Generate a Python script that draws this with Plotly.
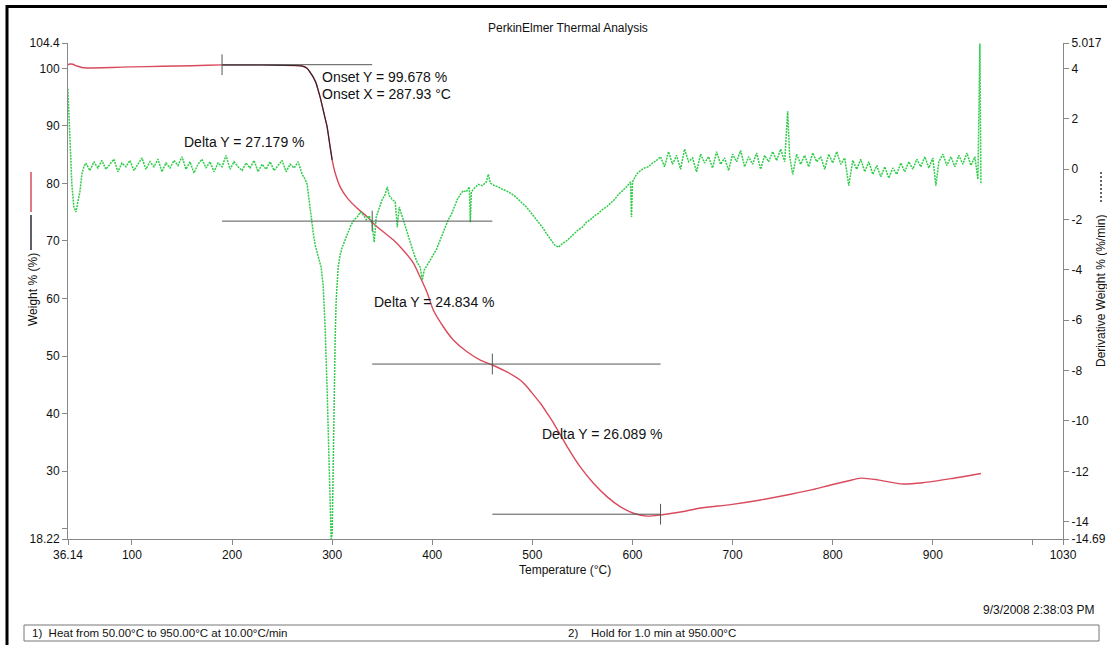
import plotly.graph_objects as go

# ---------------- data ----------------
weight_temp = [36, 38, 41, 45, 50, 55, 60, 80, 100, 130, 160, 190, 230, 260, 270, 275, 278,
               281, 284, 286, 288, 291, 293, 295, 298, 300, 303, 308, 315, 325, 335, 341,
               351, 361, 371, 381, 388, 395, 401, 411, 421, 435, 448, 460, 475, 488, 495,
               501, 508, 515, 521, 528, 535, 548, 561, 575, 588, 601, 615, 628, 648, 668,
               698, 728, 758, 780, 798, 815, 828, 845, 868, 890, 918, 948]
weight_pct = [100.6, 100.75, 100.7, 100.4, 100.15, 100.05, 100.05, 100.15, 100.25, 100.35,
              100.45, 100.6, 100.6, 100.5, 100.4, 100.0, 99.3, 98.5, 97.4, 96.2, 95.0, 92.8,
              91.3, 89.8, 86.3, 84.1, 81.8, 79.4, 77.5, 75.7, 74.2, 73.1, 71.6, 70.2, 68.4,
              66.2, 63.7, 60.96, 58.0, 55.1, 52.8, 50.7, 49.3, 48.45, 47.2, 45.8, 44.6, 43.3,
              41.8, 40.0, 38.4, 36.3, 34.2, 30.7, 27.9, 25.5, 23.8, 22.7, 22.2, 22.4, 22.9,
              23.6, 24.2, 25.0, 26.0, 26.8, 27.6, 28.3, 28.8, 28.5, 27.8, 28.0, 28.7, 29.6]

deriv_temp = [36, 38, 40, 42, 44, 46, 48, 50, 52,
              54, 58, 62, 66, 70, 74, 78, 82, 86, 90, 94, 98, 102, 106, 110, 114, 118, 122,
              126, 130, 134, 138, 142, 146, 150, 154, 158, 162, 166, 170, 174, 178, 182, 186,
              190, 194, 198, 202, 206, 210, 214, 218, 222, 226, 230, 234, 238, 242, 246, 250,
              254, 258, 262, 266, 270,
              273, 275, 277, 279, 281, 283, 285, 287, 289, 291, 293, 295, 297, 299, 300, 301,
              302, 303, 304, 306, 308, 310, 313, 316, 319, 322, 325, 328, 331, 334, 337, 340,
              342, 344, 347, 350, 353, 355, 357, 360, 363, 365, 367, 370, 373, 376, 379, 382,
              385, 388, 390, 392, 395, 398, 401, 404, 407, 410, 413, 416, 419, 422, 425, 428,
              431, 434, 437, 438, 439, 442, 446, 450, 454, 456, 458, 462, 466, 470, 474, 478,
              482, 486, 490, 494, 498, 502, 506, 510, 514, 518, 522, 526, 530, 534, 538, 542,
              546, 550, 554, 558, 562, 566, 570, 574, 578, 582, 586, 590, 594, 598, 599, 600,
              604, 608, 612, 616, 620, 624,
              628, 632, 636, 640, 644, 648, 652, 656, 660, 664, 668, 672, 676, 680, 684, 688,
              692, 696, 700, 704, 708, 712, 716, 720, 724, 728, 732, 736, 740, 744, 748, 752,
              755, 757, 760, 764, 768, 772, 776, 780, 784, 788, 792, 796, 800, 804, 808, 812,
              816, 820, 824, 828, 832, 836, 840, 844, 848, 852, 856, 860, 864, 868, 872, 876,
              880, 884, 888, 892, 896, 900, 903, 906, 910, 914, 918, 922, 926, 930, 934, 938,
              942, 945, 947, 948]
deriv_val = [3.2, 1.5, -0.6, -1.5, -1.7, -1.3, -0.9, -0.2, 0.1,
             0.25, -0.05, 0.3, 0.05, 0.35, 0.0, 0.2, 0.4, -0.1, 0.25, 0.1, 0.35, -0.05, 0.2,
             0.45, 0.0, 0.3, 0.1, 0.4, -0.1, 0.25, 0.05, 0.35, 0.15, 0.5, 0.0, 0.3, -0.15, 0.2,
             0.4, 0.05, 0.3, -0.1, 0.25, 0.1, 0.55, 0.0, 0.3, 0.1, -0.05, 0.25, 0.05, 0.35,
             -0.1, 0.2, 0.0, 0.3, -0.05, 0.15, 0.35, -0.1, 0.2, 0.05, 0.3, -0.2,
             -0.4, -0.6, -1.3, -1.9, -2.5, -3.0, -3.3, -3.6, -3.9, -4.6, -6.3, -8.8, -12.0,
             -14.69, -14.5, -11.6, -9.0, -6.7, -5.2, -3.9, -3.4, -3.1, -2.8, -2.5, -2.2, -2.0,
             -1.9, -1.7, -1.8, -2.0, -1.85, -2.2, -2.9, -1.9, -1.5, -1.2, -1.0, -0.7, -1.05,
             -1.2, -1.3, -2.3, -1.5, -1.9, -2.3, -2.7, -3.1, -3.4, -3.7, -3.9, -4.4, -4.0,
             -3.8, -3.6, -3.4, -3.2, -2.9, -2.6, -2.3, -2.0, -1.8, -1.5, -1.2, -1.0, -0.85,
             -0.9, -0.7, -2.1, -0.9, -0.75, -0.6, -0.65, -0.5, -0.2, -0.55, -0.65, -0.7, -0.8,
             -0.85, -0.95, -1.05, -1.2, -1.35, -1.5, -1.7, -1.9, -2.1, -2.3, -2.55, -2.8, -3.0,
             -3.1, -2.95, -2.85, -2.7, -2.55, -2.4, -2.3, -2.1, -2.0, -1.85, -1.75, -1.6, -1.5,
             -1.35, -1.2, -1.0, -0.85, -0.7, -0.5, -1.9, -0.5, -0.2, -0.05, 0.05, 0.1, 0.25,
             0.35,
             0.5, 0.1, 0.7, 0.2, 0.55, 0.0, 0.8, 0.3, 0.45, -0.1, 0.6, 0.25, 0.5, 0.05, 0.7,
             0.2, 0.45, -0.05, 0.6, 0.3, 0.75, 0.1, 0.5, 0.2, 0.65, 0.0, 0.55, 0.3, 0.7, 0.35,
             0.8, 0.3, 2.3, 0.5, -0.2, 0.6, 0.2, 0.55, 0.1, 0.65, 0.3, 0.5, 0.0, 0.6, 0.25,
             0.7, 0.2, 0.45, -0.65, 0.35, 0.0, 0.4, -0.1, 0.3, -0.2, 0.15, -0.3, 0.1, -0.35,
             0.05, -0.2, 0.25, -0.1, 0.3, 0.0, 0.4, 0.1, 0.5, 0.05, 0.45, -0.65, 0.3, 0.6,
             0.15, 0.5, 0.1, 0.55, 0.2, 0.65, 0.15, 0.5, -0.4, 5.0, -0.6]

# analysis markers
analysis_start_temp = 190
analysis_end_temp = 300
onset_level = 100.63
step_temps = [190, 340, 460, 628]
delta_values = [27.179, 24.834, 26.089]
onset_y_text = "Onset Y = 99.678 %"
onset_x_text = "Onset X = 287.93 °C"

x_tickvals = [36.14, 100, 200, 300, 400, 500, 600, 700, 800, 900, 1000, 1030]
x_ticktext = ["36.14", "100", "200", "300", "400", "500", "600", "700", "800", "900", "", "1030"]
y_tickvals = [18.22, 20, 30, 40, 50, 60, 70, 80, 90, 100, 104.4]
y_ticktext = ["18.22", "", "30", "40", "50", "60", "70", "80", "90", "100", "104.4"]
y2_tickvals = [-14.69, -14, -12, -10, -8, -6, -4, -2, 0, 2, 4, 5.017]
y2_ticktext = ["-14.69", "-14", "-12", "-10", "-8", "-6", "-4", "-2", "0", "2", "4", "5.017"]

# ---------------- layout geometry ----------------
W, H = 1107, 645
L, R, T, B = 68, 1063, 43, 539


def px(xp):
    return (xp - L) / (R - L)


def py(yp):
    return (B - yp) / (B - T)


FONT = "Arial, Liberation Sans, sans-serif"
RED = "#d94a5c"
GREEN = "#2fcc4a"

fig = go.Figure()

fig.add_trace(go.Scatter(x=deriv_temp, y=deriv_val, yaxis="y2", mode="lines",
                         line=dict(color=GREEN, width=1.5, dash="2px,1px"),
                         hoverinfo="skip", showlegend=False))
fig.add_trace(go.Scatter(x=weight_temp, y=weight_pct, mode="lines", line_shape="spline",
                         line=dict(color=RED, width=1.4, smoothing=0.6), showlegend=False))
seg_x = [t for t in weight_temp if analysis_start_temp <= t <= analysis_end_temp]
seg_y = [w for t, w in zip(weight_temp, weight_pct) if analysis_start_temp <= t <= analysis_end_temp]
fig.add_trace(go.Scatter(x=seg_x, y=seg_y, mode="lines", line_shape="spline",
                         line=dict(color="#2a2228", width=1.1, smoothing=0.6), showlegend=False))

# step levels
levels = [onset_level]
for d in delta_values:
    levels.append(levels[-1] - d)

shapes = []
LC = "#555555"
segs = [(step_temps[0], step_temps[1], levels[0]),
        (step_temps[0], step_temps[2], levels[1]),
        (step_temps[1], step_temps[3], levels[2]),
        (step_temps[2], step_temps[3], levels[3])]
for x0, x1, lv in segs:
    shapes.append(dict(type="line", xref="x", yref="y", x0=x0, x1=x1, y0=lv, y1=lv,
                       line=dict(color=LC, width=1)))
tick_pts = [(step_temps[0], levels[0]), (step_temps[1], levels[1]),
            (step_temps[2], levels[2]), (step_temps[3], levels[3])]
for tx, lv in tick_pts:
    shapes.append(dict(type="line", xref="x", yref="y", x0=tx, x1=tx, y0=lv - 1.8, y1=lv + 1.8,
                       line=dict(color=LC, width=1)))

# page frame
shapes.append(dict(type="rect", xref="paper", yref="paper",
                   x0=px(7), x1=px(1140), y0=py(670), y1=py(6.5),
                   line=dict(color="black", width=3), fillcolor="rgba(0,0,0,0)"))
# footer box
shapes.append(dict(type="rect", xref="paper", yref="paper",
                   x0=px(24), x1=px(1099), y0=py(641), y1=py(625),
                   line=dict(color="#777777", width=1), fillcolor="rgba(0,0,0,0)"))
# left title legend samples
shapes.append(dict(type="line", xref="paper", yref="paper", x0=px(31), x1=px(31),
                   y0=py(212), y1=py(172), line=dict(color=RED, width=1.5)))
shapes.append(dict(type="line", xref="paper", yref="paper", x0=px(31), x1=px(31),
                   y0=py(250), y1=py(215), line=dict(color="#2a2a35", width=1.5)))
# right title dotted sample
shapes.append(dict(type="line", xref="paper", yref="paper", x0=px(1101), x1=px(1101),
                   y0=py(202), y1=py(170), line=dict(color="#333333", width=1.5, dash="2px,2px")))

ann = []


def atext(text, x, y, size=14, xanchor="left", xref="x", yref="y", angle=0):
    ann.append(dict(text=text, x=x, y=y, xref=xref, yref=yref, showarrow=False,
                    xanchor=xanchor, yanchor="middle", textangle=angle,
                    font=dict(family=FONT, size=size, color="#111111")))


atext(onset_y_text, 288, 98.5)
atext(onset_x_text, 288, 95.6)
atext("Delta Y = %.3f %%" % delta_values[0], 150, 87.2)
atext("Delta Y = %.3f %%" % delta_values[1], 340, 59.4)
atext("Delta Y = %.3f %%" % delta_values[2], 508, 36.5)

atext("PerkinElmer Thermal Analysis", px(568), py(28), size=12, xanchor="center",
      xref="paper", yref="paper")
atext("Temperature (°C)", px(565), py(570), size=12, xanchor="center", xref="paper", yref="paper")
atext("Weight % (%)", px(33), py(290), size=12, xanchor="center", xref="paper", yref="paper",
      angle=-90)
atext("Derivative Weight % (%/min)", px(1101), py(291), size=12, xanchor="center",
      xref="paper", yref="paper", angle=-90)
atext("9/3/2008 2:38:03 PM", px(1096), py(610), size=12, xanchor="right", xref="paper",
      yref="paper")
atext("1)  Heat from 50.00°C to 950.00°C at 10.00°C/min", px(30), py(633), size=11.5,
      xref="paper", yref="paper")
atext("2)    Hold for 1.0 min at 950.00°C", px(566), py(633), size=11.5, xref="paper",
      yref="paper")

axis_common = dict(showgrid=False, zeroline=False, showline=True, linecolor="#888888",
                   linewidth=1, ticks="outside", ticklen=5, tickcolor="#888888",
                   automargin=False,
                   tickfont=dict(family=FONT, size=12, color="#111111"))

fig.update_layout(
    width=W, height=H,
    margin=dict(l=L, r=W - R, t=T, b=H - B, pad=0, autoexpand=False),
    paper_bgcolor="white", plot_bgcolor="white",
    showlegend=False,
    xaxis=dict(range=[36.14, 1030], tickmode="array", tickvals=x_tickvals,
               ticktext=x_ticktext, **axis_common),
    yaxis=dict(range=[18.22, 104.4], tickmode="array", tickvals=y_tickvals,
               ticktext=y_ticktext, **axis_common),
    yaxis2=dict(range=[-14.69, 5.017], overlaying="y", side="right", tickmode="array",
                tickvals=y2_tickvals, ticktext=y2_ticktext, **axis_common),
    shapes=shapes,
    annotations=ann,
)

fig.write_html("out.html")
